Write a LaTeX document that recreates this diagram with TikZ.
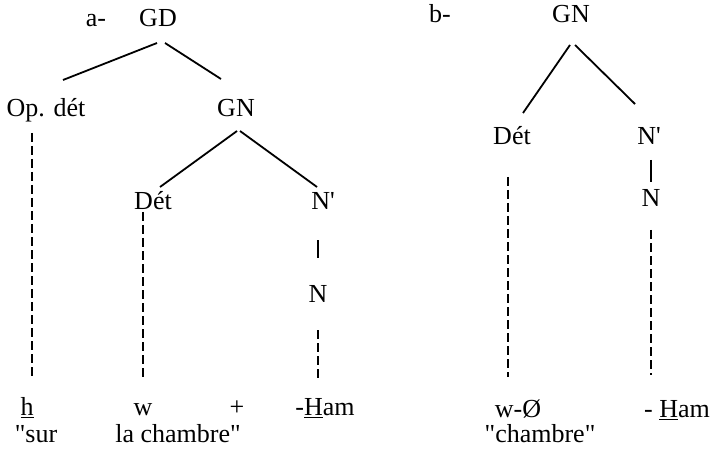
\documentclass[tikz,border=0pt]{standalone}
\usepackage{fontspec}
\setmainfont{Liberation Serif}
\usepackage{tikz}
\usetikzlibrary{calc}
\tikzset{%
  lbl/.style={inner sep=0pt, outer sep=0pt, anchor=base, font=\fontsize{13}{15}\selectfont}}
\tikzset{branch/.style={line width=0.9pt}}
\tikzset{dashlink/.style={line width=1pt, dash pattern=on 4.5pt off 2pt}}
\newcommand{\dq}{\textquotedbl}

\begin{document}
\begin{tikzpicture}[x=0.5pt,y=-0.5pt]
\useasboundingbox (0,0) rectangle (715,459);
% tree a
\node[lbl] (tagA) at (96,27) {a-};
\node[lbl] (GDa) at (158,27) {GD};
\node[lbl] (Opa) at (46,117) {Op. dét};
\node[lbl] (GNa) at (236,117) {GN};
\node[lbl] (Deta) at (153,210) {Dét};
\node[lbl] (Npa) at (323,210) {N\textquotesingle};
\node[lbl] (Na) at (318,302) {N};
\node[lbl] (ha) at (27,415) {\underline{h}};
\node[lbl] (wa) at (143,415) {w};
\node[lbl] (plus) at (237,415) {+};
\node[lbl] (Hama) at (325,415) {-\underline{H}am};
\node[lbl] (sur) at (36,442) {\dq sur};
\node[lbl] (chambrea) at (178,442) {la chambre\dq};
\draw[branch] ($(GDa.base)+(-1,16)$) -- ($(Opa.base)+(17,-37)$);
\draw[branch] ($(GDa.base)+(7,16)$) -- ($(GNa.base)+(-15,-38)$);
\draw[branch] ($(GNa.base)+(1,14)$) -- ($(Deta.base)+(7,-23)$);
\draw[branch] ($(GNa.base)+(4,14)$) -- ($(Npa.base)+(-6,-23)$);
\draw[branch] ($(Npa.base)+(-5,30)$) -- ($(Na.base)+(0,-44)$);
\draw[dashlink] ($(Opa.base)+(-14,16)$) -- ($(ha.base)+(5,-35)$);
\draw[dashlink] ($(Deta.base)+(-10,2)$) -- ($(wa.base)+(0,-35)$);
\draw[dashlink] ($(Na.base)+(0,28)$) -- ($(Hama.base)+(-7,-35)$);
% tree b
\node[lbl] (tagB) at (440,23) {b-};
\node[lbl] (GNb) at (571,23) {GN};
\node[lbl] (Detb) at (512,145) {Dét};
\node[lbl] (Npb) at (649,145) {N\textquotesingle};
\node[lbl] (Nb) at (651,207) {N};
\node[lbl] (wb) at (518,417) {w-Ø};
\node[lbl] (Hamb) at (677,417) {- \underline{H}am};
\node[lbl] (chambreb) at (540,442) {\dq chambre\dq};
\draw[branch] ($(GNb.base)+(-1,22)$) -- ($(Detb.base)+(11,-32)$);
\draw[branch] ($(GNb.base)+(4,22)$) -- ($(Npb.base)+(-14,-41)$);
\draw[branch] ($(Npb.base)+(2,15)$) -- ($(Nb.base)+(0,-25)$);
\draw[dashlink] ($(Detb.base)+(-4,32)$) -- ($(wb.base)+(-10,-40)$);
\draw[dashlink] ($(Nb.base)+(0,23)$) -- ($(Hamb.base)+(-26,-42)$);
\end{tikzpicture}
\end{document}
